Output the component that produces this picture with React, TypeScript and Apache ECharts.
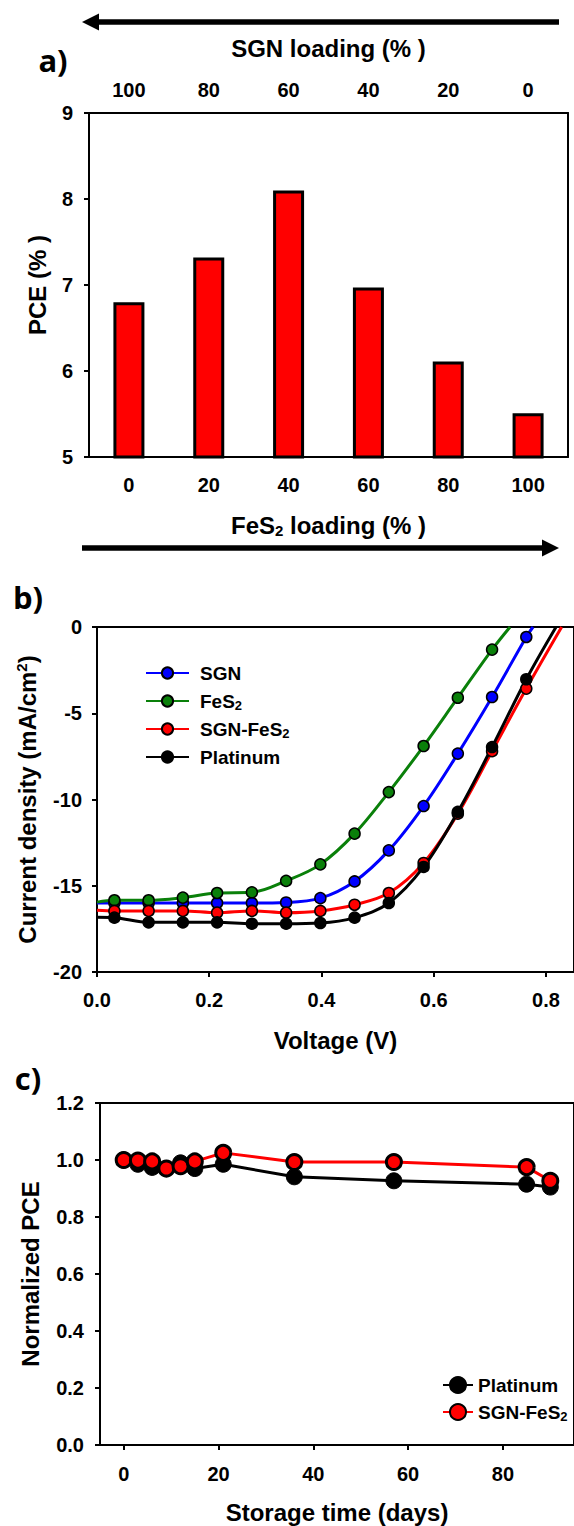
import React, { useEffect, useRef } from 'react';
import * as echarts from 'echarts';

// ---------- Panel a ----------
const fes2Loading = ['0', '20', '40', '60', '80', '100'];
const sgnLoading = ['100', '80', '60', '40', '20', '0'];
const pceValues = [6.8, 7.32, 8.1, 6.97, 6.11, 5.51];

// ---------- Panel b ----------
const voltage = [0.031, 0.092, 0.153, 0.214, 0.276, 0.337, 0.398, 0.459, 0.52, 0.582, 0.643, 0.704, 0.765];
const jSGN = [-16.0, -16.0, -16.0, -16.0, -16.0, -15.97, -15.72, -14.75, -12.95, -10.38, -7.34, -4.06, -0.58];
const jFeS2 = [-15.84, -15.84, -15.69, -15.42, -15.38, -14.72, -13.76, -11.98, -9.57, -6.9, -4.1, -1.31];
const jSGNFeS2 = [-16.46, -16.46, -16.46, -16.56, -16.46, -16.56, -16.46, -16.1, -15.42, -13.68, -10.82, -7.2, -3.57];
const jPlatinum = [-16.85, -17.12, -17.12, -17.12, -17.2, -17.2, -17.16, -16.85, -16.0, -13.91, -10.72, -6.96, -3.03];
// current at V = 0 and open-circuit voltage (J = 0)
const jscStart = { SGN: -16.0, FeS2: -15.95, SGNFeS2: -16.42, Platinum: -16.83 };
const vocEnd = { SGN: 0.777, FeS2: 0.736, SGNFeS2: 0.828, Platinum: 0.818 };
const voltageTicks = [0, 0.2, 0.4, 0.6, 0.8];

// ---------- Panel c ----------
const days = [0, 3, 6, 9, 12, 15, 21, 36, 57, 85, 90];
const pcePlatinum = [1.0, 0.985, 0.974, 0.97, 0.99, 0.97, 0.985, 0.941, 0.927, 0.915, 0.905];
const pceSGNFeS2 = [1.0, 0.998, 0.995, 0.97, 0.978, 0.995, 1.025, 0.993, 0.993, 0.975, 0.927];
const dayTicks = [0, 20, 40, 60, 80];

const FONT = "'Liberation Sans', Arial, sans-serif";
const B = 'bold';

const legendLabels: Record<string, string> = {
  SGN: 'SGN',
  FeS2: 'FeS{sub|2}',
  'SGN-FeS2': 'SGN-FeS{sub|2}',
  Platinum: 'Platinum',
  'Platinum (c)': 'Platinum',
  'SGN-FeS2 (c)': 'SGN-FeS{sub|2}',
};

const subRich = (size: number) => ({
  sub: { fontSize: size, fontWeight: B, fontFamily: FONT, color: '#000', verticalAlign: 'bottom', lineHeight: Math.round(size * 0.6) },
  sup: { fontSize: size, fontWeight: B, fontFamily: FONT, color: '#000', verticalAlign: 'top', lineHeight: size },
});

function curve(xs: number[], ys: number[], start: number, end: number) {
  const d: any[] = [{ value: [0, start], symbol: 'none' }];
  ys.forEach((y, i) => d.push([xs[i], y]));
  d.push({ value: [end, 0], symbol: 'none' });
  return d;
}

const axisLineStyle = { lineStyle: { color: '#000', width: 2 } };
const tickLabel = (size = 20) => ({ color: '#000', fontSize: size, fontWeight: B, fontFamily: FONT });
const nameStyle = (extraRich = 15) => ({
  color: '#000', fontSize: 24, fontWeight: B, fontFamily: FONT, lineHeight: 26, rich: subRich(extraRich),
});
const frameAxis = (gridIndex: number, position: string, extra: any = {}) => ({
  gridIndex, position, type: 'value', ...extra,
  axisLine: { show: true, onZero: false, ...axisLineStyle },
  axisTick: { show: false }, axisLabel: { show: false }, splitLine: { show: false },
});

export default function App() {
  const ref = useRef<HTMLDivElement>(null);
  useEffect(() => {
    document.body.style.margin = '0';
    const chart = echarts.init(ref.current!, undefined, { renderer: 'svg' });
    const option: any = {
      animation: false,
      backgroundColor: '#fff',
      textStyle: { fontFamily: FONT },
      grid: [
        { left: 89, top: 113, width: 479, height: 344 },
        { left: 97, top: 627, width: 479, height: 345 },
        { left: 100, top: 1103, width: 478, height: 343 },
      ],
      xAxis: [
        {
          gridIndex: 0, type: 'category', data: fes2Loading, position: 'bottom', boundaryGap: true,
          axisLine: axisLineStyle,
          axisTick: { alignWithLabel: true, length: 5, lineStyle: { color: '#000', width: 2 } },
          axisLabel: { ...tickLabel(), margin: 18 },
          name: 'FeS{sub|2} loading (% )', nameLocation: 'middle', nameGap: 55, nameTextStyle: nameStyle(15),
        },
        {
          gridIndex: 0, type: 'category', data: sgnLoading, position: 'top', boundaryGap: true,
          axisLine: axisLineStyle,
          axisTick: { alignWithLabel: true, length: 5, lineStyle: { color: '#000', width: 2 } },
          axisLabel: { ...tickLabel(), margin: 13 },
          name: 'SGN loading (% )', nameLocation: 'middle', nameGap: 52, nameTextStyle: nameStyle(15),
        },
        {
          gridIndex: 1, type: 'value', min: 0, max: 0.85, position: 'bottom',
          axisLine: { onZero: false, ...axisLineStyle },
          axisTick: { length: 5, lineStyle: { color: '#000', width: 2 }, customValues: voltageTicks },
          axisLabel: { ...tickLabel(), margin: 18, customValues: voltageTicks, formatter: (v: number) => v.toFixed(1) },
          splitLine: { show: false },
          name: 'Voltage (V)', nameLocation: 'middle', nameGap: 55, nameTextStyle: nameStyle(),
        },
        frameAxis(1, 'top', { min: 0, max: 0.85 }),
        {
          gridIndex: 2, type: 'value', min: -5, max: 95, position: 'bottom',
          axisLine: { onZero: false, ...axisLineStyle },
          axisTick: { length: 5, lineStyle: { color: '#000', width: 2 }, customValues: dayTicks },
          axisLabel: { ...tickLabel(), margin: 19, customValues: dayTicks },
          splitLine: { show: false },
          name: 'Storage time (days)', nameLocation: 'middle', nameGap: 54, nameTextStyle: nameStyle(),
        },
        frameAxis(2, 'top', { min: -5, max: 95 }),
      ],
      yAxis: [
        {
          gridIndex: 0, type: 'value', min: 5, max: 9, interval: 1, position: 'left',
          axisLine: { show: true, ...axisLineStyle },
          axisTick: { show: true, length: 5, lineStyle: { color: '#000', width: 2 } },
          axisLabel: { ...tickLabel(), margin: 16 },
          splitLine: { show: false },
          name: 'PCE (% )', nameLocation: 'middle', nameGap: 39, nameTextStyle: nameStyle(),
        },
        frameAxis(0, 'right', { min: 5, max: 9 }),
        {
          gridIndex: 1, type: 'value', min: -20, max: 0, interval: 5, position: 'left',
          axisLine: { show: true, onZero: false, ...axisLineStyle },
          axisTick: { show: true, length: 5, lineStyle: { color: '#000', width: 2 } },
          axisLabel: { ...tickLabel(), margin: 15 },
          splitLine: { show: false },
          name: 'Current density (mA/cm{sup|2})', nameLocation: 'middle', nameGap: 57, nameTextStyle: nameStyle(15),
        },
        frameAxis(1, 'right', { min: -20, max: 0 }),
        {
          gridIndex: 2, type: 'value', min: 0, max: 1.2, interval: 0.2, position: 'left',
          axisLine: { show: true, onZero: false, ...axisLineStyle },
          axisTick: { show: true, length: 5, lineStyle: { color: '#000', width: 2 } },
          axisLabel: { ...tickLabel(), margin: 16, formatter: (v: number) => v.toFixed(1) },
          splitLine: { show: false },
          name: 'Normalized PCE', nameLocation: 'middle', nameGap: 57, nameTextStyle: nameStyle(),
        },
        frameAxis(2, 'right', { min: 0, max: 1.2 }),
      ],
      legend: [
        {
          data: ['SGN', 'FeS2', 'SGN-FeS2', 'Platinum'],
          orient: 'vertical', left: 140, top: 657,
          itemWidth: 43, itemHeight: 14, itemGap: 6,
          formatter: (n: string) => legendLabels[n] || n,
          textStyle: {
            color: '#000', fontSize: 19, fontWeight: B, fontFamily: FONT, lineHeight: 22,
            padding: [0, 0, 0, 6], rich: subRich(13),
          },
          selectedMode: false,
        },
        {
          data: ['Platinum (c)', 'SGN-FeS2 (c)'],
          orient: 'vertical', left: 437, top: 1369,
          itemWidth: 30, itemHeight: 20, itemGap: 5,
          formatter: (n: string) => legendLabels[n] || n,
          textStyle: {
            color: '#000', fontSize: 19, fontWeight: B, fontFamily: FONT, lineHeight: 22,
            rich: subRich(13),
          },
          selectedMode: false,
        },
      ],
      series: [
        {
          type: 'bar', xAxisIndex: 0, yAxisIndex: 0, data: pceValues, barWidth: 31,
          itemStyle: { color: '#ff0000', borderColor: '#000', borderWidth: 3 },
        },
        ...([
          ['SGN', voltage, jSGN, jscStart.SGN, vocEnd.SGN, '#0000ff'],
          ['FeS2', voltage, jFeS2, jscStart.FeS2, vocEnd.FeS2, '#0a800a'],
          ['SGN-FeS2', voltage, jSGNFeS2, jscStart.SGNFeS2, vocEnd.SGNFeS2, '#ff0000'],
          ['Platinum', voltage, jPlatinum, jscStart.Platinum, vocEnd.Platinum, '#000000'],
        ] as any[]).map(([name, xs, ys, s, e, c]) => ({
          type: 'line', name, xAxisIndex: 2, yAxisIndex: 2, smooth: 0.35,
          data: curve(xs, ys, s, e),
          symbol: 'circle', symbolSize: 11,
          lineStyle: { color: c, width: 3 },
          itemStyle: { color: c, borderColor: '#000', borderWidth: 1.5 },
        })),
        {
          type: 'line', name: 'Platinum (c)', xAxisIndex: 4, yAxisIndex: 4,
          data: days.map((d, i) => [d, pcePlatinum[i]]),
          symbol: 'circle', symbolSize: 16,
          lineStyle: { color: '#000', width: 3 },
          itemStyle: { color: '#000', borderColor: '#000', borderWidth: 1 },
        },
        {
          type: 'line', name: 'SGN-FeS2 (c)', xAxisIndex: 4, yAxisIndex: 4,
          data: days.map((d, i) => [d, pceSGNFeS2[i]]),
          symbol: 'circle', symbolSize: 15,
          lineStyle: { color: '#ff0000', width: 3 },
          itemStyle: { color: '#ff0000', borderColor: '#000', borderWidth: 3 },
        },
      ],
      graphic: [
        { type: 'line', shape: { x1: 96, y1: 22, x2: 559, y2: 22 }, style: { stroke: '#000', lineWidth: 5.5 } },
        { type: 'polygon', shape: { points: [[82, 22], [99, 13.5], [99, 30.5]] }, style: { fill: '#000' } },
        { type: 'line', shape: { x1: 82, y1: 548, x2: 545, y2: 548 }, style: { stroke: '#000', lineWidth: 5.5 } },
        { type: 'polygon', shape: { points: [[559, 548], [542, 539.5], [542, 556.5]] }, style: { fill: '#000' } },
        { type: 'text', x: 53, y: 60, style: { text: 'a)', fontSize: 31, fontWeight: B, fontFamily: "'Open Sans', sans-serif", fill: '#000', align: 'center', verticalAlign: 'middle' } },
        { type: 'text', x: 28, y: 597, style: { text: 'b)', fontSize: 31, fontWeight: B, fontFamily: "'Open Sans', sans-serif", fill: '#000', align: 'center', verticalAlign: 'middle' } },
        { type: 'text', x: 28, y: 1078, style: { text: 'c)', fontSize: 31, fontWeight: B, fontFamily: "'Open Sans', sans-serif", fill: '#000', align: 'center', verticalAlign: 'middle' } },
      ],
    };
    chart.setOption(option);
    return () => chart.dispose();
  }, []);
  return <div ref={ref} style={{ width: 574, height: 1526 }} />;
}
